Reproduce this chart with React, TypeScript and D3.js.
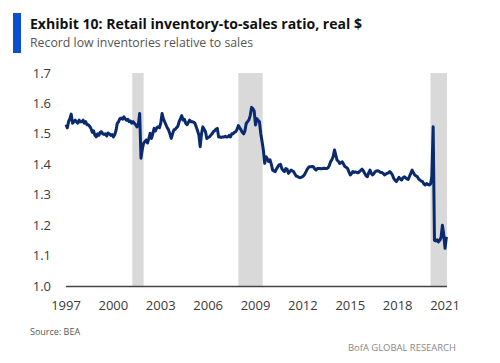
import React from 'react'
import * as d3 from 'd3'

// monthly retail inventory-to-sales ratio (real), Jan 1997 .. Feb 2021, one row per year
const y1997 = [1.53, 1.52, 1.54, 1.55, 1.565, 1.535, 1.54, 1.545, 1.54, 1.535, 1.545, 1.54]
const y1998 = [1.54, 1.545, 1.535, 1.54, 1.53, 1.53, 1.525, 1.518, 1.505, 1.51, 1.495, 1.49]
const y1999 = [1.5, 1.495, 1.505, 1.507, 1.5, 1.498, 1.5, 1.493, 1.503, 1.5, 1.495, 1.498]
const y2000 = [1.49, 1.497, 1.51, 1.535, 1.54, 1.55, 1.552, 1.548, 1.556, 1.55, 1.545, 1.548]
const y2001 = [1.54, 1.542, 1.535, 1.54, 1.535, 1.53, 1.523, 1.53, 1.567, 1.42, 1.45, 1.469]
const y2002 = [1.475, 1.48, 1.47, 1.485, 1.502, 1.485, 1.5, 1.518, 1.51, 1.52, 1.523, 1.52]
const y2003 = [1.535, 1.567, 1.55, 1.54, 1.53, 1.52, 1.513, 1.5, 1.485, 1.5, 1.513, 1.515]
const y2004 = [1.52, 1.525, 1.54, 1.55, 1.56, 1.545, 1.548, 1.535, 1.53, 1.538, 1.545, 1.54]
const y2005 = [1.54, 1.538, 1.535, 1.523, 1.51, 1.496, 1.458, 1.5, 1.523, 1.515, 1.507, 1.485]
const y2006 = [1.488, 1.49, 1.495, 1.5, 1.507, 1.51, 1.515, 1.518, 1.49, 1.49, 1.488, 1.49]
const y2007 = [1.49, 1.492, 1.49, 1.49, 1.495, 1.49, 1.5, 1.5, 1.505, 1.507, 1.515, 1.527]
const y2008 = [1.52, 1.513, 1.505, 1.5, 1.51, 1.535, 1.54, 1.546, 1.56, 1.587, 1.583, 1.575]
const y2009 = [1.529, 1.55, 1.545, 1.54, 1.502, 1.475, 1.447, 1.403, 1.425, 1.418, 1.409, 1.415]
const y2010 = [1.4, 1.381, 1.378, 1.376, 1.385, 1.392, 1.398, 1.4, 1.386, 1.38, 1.376, 1.386]
const y2011 = [1.384, 1.37, 1.375, 1.381, 1.378, 1.376, 1.368, 1.361, 1.36, 1.357, 1.356, 1.358]
const y2012 = [1.36, 1.365, 1.372, 1.381, 1.388, 1.392, 1.392, 1.393, 1.392, 1.385, 1.381, 1.386]
const y2013 = [1.386, 1.386, 1.385, 1.386, 1.387, 1.386, 1.386, 1.388, 1.395, 1.408, 1.415, 1.425]
const y2014 = [1.447, 1.43, 1.414, 1.41, 1.403, 1.405, 1.408, 1.4, 1.392, 1.39, 1.386, 1.375]
const y2015 = [1.365, 1.37, 1.376, 1.373, 1.375, 1.373, 1.372, 1.376, 1.38, 1.384, 1.378, 1.37]
const y2016 = [1.362, 1.359, 1.372, 1.381, 1.37, 1.365, 1.37, 1.376, 1.378, 1.379, 1.376, 1.373]
const y2017 = [1.373, 1.37, 1.365, 1.368, 1.37, 1.372, 1.376, 1.372, 1.365, 1.354, 1.348, 1.343]
const y2018 = [1.35, 1.357, 1.352, 1.348, 1.355, 1.359, 1.356, 1.352, 1.35, 1.36, 1.37, 1.381]
const y2019 = [1.372, 1.365, 1.362, 1.359, 1.352, 1.348, 1.345, 1.343, 1.335, 1.332, 1.337, 1.334]
const y2020 = [1.332, 1.335, 1.36, 1.523, 1.15, 1.148, 1.152, 1.145, 1.15, 1.16, 1.2, 1.17]
const y2021 = [1.124, 1.162]

const ratio = [
  ...y1997, ...y1998, ...y1999, ...y2000, ...y2001, ...y2002, ...y2003, ...y2004,
  ...y2005, ...y2006, ...y2007, ...y2008, ...y2009, ...y2010, ...y2011, ...y2012,
  ...y2013, ...y2014, ...y2015, ...y2016, ...y2017, ...y2018, ...y2019, ...y2020, ...y2021,
]

// recessions (shaded)
const recessions: [Date, Date][] = [
  [new Date(2001, 2, 15), new Date(2001, 11, 1)],
  [new Date(2007, 11, 1), new Date(2009, 5, 15)],
  [new Date(2020, 1, 1), new Date(2021, 1, 15)],
]

const yTicks = [1.0, 1.1, 1.2, 1.3, 1.4, 1.5, 1.6, 1.7]
const xTickYears = [1997, 2000, 2003, 2006, 2009, 2012, 2015, 2018, 2021]

const font = '"Open Sans", "DejaVu Sans", sans-serif'

export default function App() {
  const width = 500, height = 363
  const margin = { top: 73, right: 53, bottom: 77, left: 66 }

  const x = d3.scaleTime()
    .domain([new Date(1997, 0, 1), new Date(2021, 1, 15)])
    .range([margin.left, width - margin.right])
  const y = d3.scaleLinear()
    .domain([1.0, 1.7])
    .range([height - margin.bottom, margin.top])

  const data = ratio.map((v, i) => ({ date: new Date(1997, i, 1), v }))
  const line = d3.line<{ date: Date, v: number }>()
    .x(d => x(d.date))
    .y(d => y(d.v))

  const fmt = d3.format('.1f')

  return (
    <svg width={width} height={height} style={{ position: 'absolute', left: 0, top: 0 }}
      fontFamily={font}>
      <rect x={0} y={0} width={width} height={height} fill="#fff" />

      {/* header */}
      <rect x={13} y={13} width={8} height={40} fill="#0a4fd0" />
      <text x={30} y={29} fontSize={13.5} fontWeight="bold" fill="#111"
        textLength={332} lengthAdjust="spacingAndGlyphs">
        Exhibit 10: Retail inventory-to-sales ratio, real $
      </text>
      <text x={30} y={47} fontSize={13} fill="#555"
        textLength={223} lengthAdjust="spacingAndGlyphs">
        Record low inventories relative to sales
      </text>

      {/* recession shading */}
      {recessions.map(([a, b], i) => (
        <rect key={i} x={x(a)} y={y(1.7)} width={x(b) - x(a)} height={y(1.0) - y(1.7)}
          fill="#d9d9d9" />
      ))}

      {/* y labels */}
      {yTicks.map(t => (
        <text key={t} x={51} y={y(t)} dy="0.35em" textAnchor="end" fontSize={13} fill="#3a3a3a">
          {fmt(t)}
        </text>
      ))}

      {/* x axis */}
      <line x1={x.range()[0]} x2={x.range()[1]} y1={y(1.0) + 0.5} y2={y(1.0) + 0.5}
        stroke="#444" strokeWidth={1.5} />
      {xTickYears.map(yr => (
        <text key={yr} x={x(new Date(yr, 0, 1))} y={310} textAnchor="middle" fontSize={13} fill="#3a3a3a">
          {yr}
        </text>
      ))}

      <path d={line(data) || ''} fill="none" stroke="#0b2a6e" strokeWidth={3}
        strokeLinejoin="round" />

      {/* footer */}
      <text x={30} y={335} fontSize={9} fill="#555">Source: BEA</text>
      <text x={456} y={351} fontSize={9} fill="#888" textAnchor="end"
        textLength={108} lengthAdjust="spacingAndGlyphs">BofA GLOBAL RESEARCH</text>
    </svg>
  )
}
